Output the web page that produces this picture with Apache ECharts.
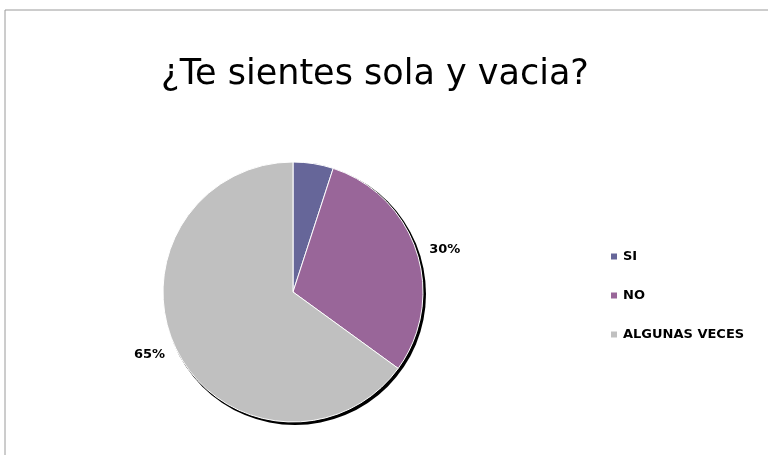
<!DOCTYPE html>
<html><head><meta charset="utf-8">
<script src="https://cdn.jsdelivr.net/npm/echarts@6/dist/echarts.min.js"></script>
<style>html,body{margin:0;padding:0;background:#fff}#c{width:768px;height:455px}</style>
</head><body><div id="c"></div>
<script>
const categories = ['SI', 'NO', 'ALGUNAS VECES'];
const values = [5, 30, 65];
const colors = ['#666699', '#996699', '#C0C0C0'];
const titleText = '¿Te sientes sola y vacia?';

const chart = echarts.init(document.getElementById('c'));
const center = [293, 292];
const radius = 130;
chart.setOption({
  animation: false,
  backgroundColor: '#fff',
  graphic: [{
    type: 'rect', shape: {x: 5, y: 10, width: 800, height: 500},
    style: {fill: 'none', stroke: '#9a9a9a', lineWidth: 1}, z: -1
  }],
  title: {
    text: titleText, left: 370, top: 52, textAlign: 'center',
    textStyle: {fontFamily: 'DejaVu Sans', fontWeight: 'normal', fontSize: 35, color: '#000'}
  },
  legend: {
    orient: 'vertical', left: 604, top: 245, itemWidth: 8, itemHeight: 8, itemGap: 26,
    icon: 'rect', data: categories,
    textStyle: {fontFamily: 'DejaVu Sans', fontWeight: 'bold', fontSize: 13, color: '#000'}
  },
  series: [{
    type: 'pie', silent: true, center: [center[0] + 2, center[1] + 2], radius: radius + 1,
    startAngle: 90, clockwise: true, label: {show: false}, labelLine: {show: false},
    data: [{value: values.reduce((a, b) => a + b, 0), name: '_shadow', itemStyle: {color: '#000'}}],
    legendHoverLink: false
  }, {
    type: 'pie', center: center, radius: radius, startAngle: 90, clockwise: true,
    itemStyle: {borderColor: '#fff', borderWidth: 1},
    label: {
      show: true, position: 'outside', formatter: '{d}%',
      fontFamily: 'DejaVu Sans', fontWeight: 'bold', fontSize: 13, color: '#000'
    },
    labelLine: {show: false, length: 8, length2: 0},
    data: categories.map((c, i) => ({
      name: c, value: values[i], itemStyle: {color: colors[i]},
      label: i === 0 ? {show: false} : undefined
    }))
  }]
});
</script></body></html>
